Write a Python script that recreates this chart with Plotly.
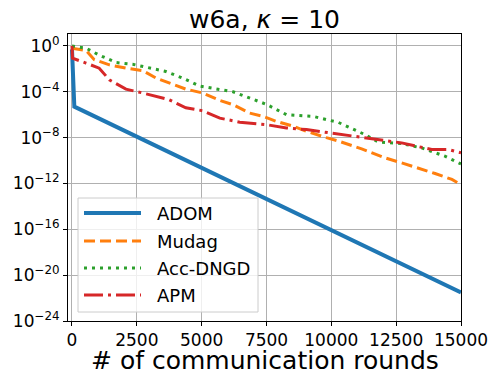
import plotly.graph_objects as go

# ---- data (y values stored as log10) ----
adom_x = [0, 90, 15000]
adom_log = [-0.3, -5.3, -21.5]

mudag_x = [0, 540, 860, 1440, 2080, 2720, 3240, 3750, 4390, 5030, 5700, 6210, 6850, 7370,
           7880, 8520, 9040, 9810, 10270, 11170, 11560, 12070, 12710, 13230, 14000, 14650, 15000]
mudag_log = [-0.2, -0.4, -1.2, -1.65, -1.94, -2.15, -2.8, -3.2, -3.77, -4.1, -4.76, -5.13, -5.86, -6.15,
             -6.58, -7.0, -7.45, -8.0, -8.3, -8.98, -9.33, -9.77, -10.2, -10.55, -11.13, -11.65, -12.1]

accdngd_x = [0, 540, 1050, 1700, 2340, 2980, 3620, 4260, 4930, 6210, 7500, 8270, 9300, 10270,
             11300, 11810, 12710, 13480, 14380, 15000]
accdngd_log = [0.0, -0.2, -0.8, -1.45, -1.6, -1.94, -2.23, -2.8, -3.5, -4.0, -5.1, -6.0, -6.15, -6.67,
               -7.74, -8.38, -8.52, -8.9, -9.62, -10.3]

apm_x = [0, 20, 540, 1050, 1440, 2080, 2720, 3240, 3750, 4390, 5030, 5700, 6470, 7500, 8270,
         9040, 9810, 10270, 11560, 12710, 13870, 14520, 15000]
apm_log = [0.0, -1.07, -1.5, -1.94, -2.96, -3.77, -4.1, -4.4, -4.7, -5.4, -5.65, -6.3, -6.65, -6.87, -7.16,
           -7.3, -7.54, -7.74, -8.1, -8.46, -9.04, -9.04, -9.33]

series = [
    ("ADOM", adom_x, adom_log, "#1f77b4", "solid", 4),
    ("Mudag", mudag_x, mudag_log, "#ff7f0e", "11px,5px", 3),
    ("Acc-DNGD", accdngd_x, accdngd_log, "#2ca02c", "3px,5px", 3),
    ("APM", apm_x, apm_log, "#d62728", "19px,5px,3px,5px", 3),
]

tick_exps = [0, -4, -8, -12, -16, -20, -24]
tick_vals = [10.0 ** e for e in tick_exps]
tick_text = ["10<sup>" + (str(e) if e >= 0 else "\u2212" + str(-e)) + "</sup>" for e in tick_exps]
x_ticks = [0, 2500, 5000, 7500, 10000, 12500, 15000]

font_family = "DejaVu Sans"

W, H = 493, 371
L, R, T, B = 68, 32, 34, 50
PW, PH = W - L - R, H - T - B


def px_x(p):
    return (p - L) / PW


def px_y(p):
    return (H - B - p) / PH


fig = go.Figure()
for name, xs, logs, color, dash, w in series:
    fig.add_trace(go.Scatter(
        x=xs, y=[10.0 ** v for v in logs], mode="lines", name=name,
        line=dict(color=color, dash=dash, width=w), showlegend=False,
    ))

# ---- custom legend (matplotlib-like) ----
shapes = [dict(type="rect", xref="paper", yref="paper",
               x0=px_x(78), x1=px_x(258), y0=px_y(312), y1=px_y(198),
               line=dict(color="#cccccc", width=1), fillcolor="rgba(255,255,255,0.8)",
               layer="above")]
annotations = []
leg_y = [213, 241, 268, 295]
for (name, xs, logs, color, dash, w), yy in zip(series, leg_y):
    shapes.append(dict(type="line", xref="paper", yref="paper",
                       x0=px_x(84), x1=px_x(141), y0=px_y(yy), y1=px_y(yy),
                       line=dict(color=color, dash=dash, width=w), layer="above"))
    annotations.append(dict(text=name, xref="paper", yref="paper", x=px_x(155), y=px_y(yy),
                            xanchor="left", yanchor="middle", showarrow=False,
                            font=dict(family=font_family, size=18, color="black")))

# x-axis title as annotation
annotations.append(dict(text="# of communication rounds", xref="paper", yref="paper",
                        x=0.5, y=px_y(360), xanchor="center", yanchor="middle", showarrow=False,
                        font=dict(family=font_family, size=25, color="black")))

axis_common = dict(
    showline=True, linecolor="black", linewidth=1, mirror=True,
    ticks="outside", ticklen=4, tickcolor="black",
    showgrid=True, gridcolor="#b0b0b0", gridwidth=1,
    zeroline=False, automargin=False,
    tickfont=dict(family=font_family, size=17, color="black"),
)

fig.update_layout(
    width=W, height=H,
    margin=dict(l=L, r=R, t=T, b=B),
    paper_bgcolor="white", plot_bgcolor="white",
    font=dict(family=font_family, color="black"),
    title=dict(text="w6a, <i>\u03ba</i> = 10", x=(L + L + PW) / 2 / W, xanchor="center",
               y=1 - 19 / H, yanchor="middle",
               font=dict(family=font_family, size=25, color="black")),
    xaxis=dict(range=[-154, 15000], tickvals=x_ticks, ticktext=[str(t) for t in x_ticks],
               **axis_common),
    yaxis=dict(type="log", range=[-24, 1.04], tickvals=tick_vals, ticktext=tick_text,
               **axis_common),
    shapes=shapes,
    annotations=annotations,
    showlegend=False,
)

fig.write_html("out.html")
